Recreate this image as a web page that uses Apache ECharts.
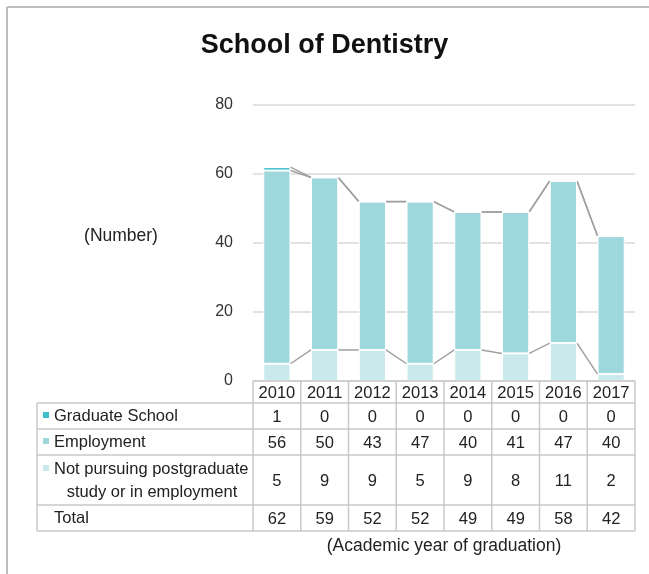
<!DOCTYPE html>
<html>
<head>
    <meta charset="utf-8">
    <script src="https://cdn.jsdelivr.net/npm/echarts@6/dist/echarts.min.js"></script>
    <style type="text/css">
        html, body { margin: 0; padding: 0; background: #fff; }
        #main { width: 649px; height: 574px; }
    </style>
</head>
<body>
    <div id="main"></div>
    <script>
        const years = ['2010', '2011', '2012', '2013', '2014', '2015', '2016', '2017'];
        const graduateSchool = [1, 0, 0, 0, 0, 0, 0, 0];
        const employment = [56, 50, 43, 47, 40, 41, 47, 40];
        const notPursuing = [5, 9, 9, 5, 9, 8, 11, 2];
        const totals = [62, 59, 52, 52, 49, 49, 58, 42];
        const yTicks = [0, 20, 40, 60, 80];

        const colGrad = '#3cbfc8';
        const colEmp = '#9ed8dc';
        const colNot = '#c9e9ec';
        const font = '"Liberation Sans", Arial, sans-serif';

        // cumulative levels for the series lines between bars
        const lvNot = notPursuing.slice();
        const lvEmp = notPursuing.map((v, i) => v + employment[i]);
        const lvGrad = lvEmp.map((v, i) => v + graduateSchool[i]);
        const levels = [lvNot, lvEmp, lvGrad];
        const barRatio = 0.57;

        const main = document.getElementById('main');
        const myChart = echarts.init(main);

        const barStyle = c => ({ color: c, borderColor: '#fff', borderWidth: 1 });

        myChart.setOption({
            animation: false,
            title: {
                text: 'School of Dentistry',
                left: 'center',
                top: 27,
                textStyle: { fontSize: 27, fontWeight: 'bold', color: '#111', fontFamily: font }
            },
            grid: { left: 253, right: 14, top: 105, bottom: 193 },
            xAxis: {
                type: 'category',
                data: years,
                axisLine: { show: false },
                axisTick: { show: false },
                axisLabel: { show: false }
            },
            yAxis: {
                type: 'value',
                min: yTicks[0], max: yTicks[yTicks.length - 1], interval: yTicks[1] - yTicks[0],
                axisLabel: { fontSize: 16, color: '#333', margin: 20, fontFamily: font },
                splitLine: { lineStyle: { color: '#d9d9d9', width: 1.5 } },
                axisLine: { show: false }
            },
            series: [
                { name: 'Not pursuing', type: 'bar', stack: 's', barWidth: (barRatio * 100) + '%', data: notPursuing, itemStyle: barStyle(colNot) },
                { name: 'Employment', type: 'bar', stack: 's', data: employment, itemStyle: barStyle(colEmp) },
                { name: 'Graduate School', type: 'bar', stack: 's', data: graduateSchool, itemStyle: barStyle(colGrad) },
                {
                    type: 'custom',
                    data: years.map((y, i) => [i, totals[i]]),
                    encode: { x: 0, y: 1 },
                    renderItem: (params, api) => {
                        const i = api.value(0);
                        if (i >= years.length - 1) return null;
                        const half = api.size([1, 0])[0] * barRatio / 2;
                        const children = levels.map(lv => {
                            const p1 = api.coord([i, lv[i]]);
                            const p2 = api.coord([i + 1, lv[i + 1]]);
                            return {
                                type: 'line',
                                shape: { x1: p1[0] + half, y1: p1[1], x2: p2[0] - half, y2: p2[1] },
                                style: { stroke: '#a0a0a0', lineWidth: 1.5 }
                            };
                        });
                        return { type: 'group', children };
                    }
                }
            ]
        });

        /* data table under the plot */
        const c0 = myChart.convertToPixel({ xAxisIndex: 0 }, 0);
        const c1 = myChart.convertToPixel({ xAxisIndex: 0 }, 1);
        const colW = c1 - c0;
        const tableL = 37;
        const colL = c0 - colW / 2;
        const colR = colL + colW * years.length;
        const rowY = [381, 403, 429, 455, 505, 531];
        const lineC = '#c8c8c8';
        const g = [];
        const line = (x1, y1, x2, y2) => g.push({
            type: 'line', shape: { x1, y1, x2, y2 }, style: { stroke: lineC, lineWidth: 1.5 }, z: 10
        });
        const txt = (x, y, text, align) => g.push({
            type: 'text', x, y, z: 11,
            style: { text, fill: '#222', fontSize: 16.5, fontFamily: font, align: align || 'center', verticalAlign: 'middle' }
        });

        // horizontal lines
        line(colL, rowY[0], colR, rowY[0]);
        for (let r = 1; r < rowY.length; r++) line(tableL, rowY[r], colR, rowY[r]);
        // vertical lines
        line(tableL, rowY[1], tableL, rowY[5]);
        for (let k = 0; k <= years.length; k++) line(colL + k * colW, rowY[0], colL + k * colW, rowY[5]);

        const rows = [
            { label: ['Graduate School'], color: colGrad, vals: graduateSchool },
            { label: ['Employment'], color: colEmp, vals: employment },
            { label: ['Not pursuing postgraduate', 'study or in employment'], color: colNot, vals: notPursuing },
            { label: ['Total'], color: null, vals: totals }
        ];
        years.forEach((y, i) => txt(colL + (i + 0.5) * colW, (rowY[0] + rowY[1]) / 2 + 1, y));
        rows.forEach((row, r) => {
            const top = rowY[r + 1], bot = rowY[r + 2];
            const mid = (top + bot) / 2;
            if (row.label.length === 1) {
                txt(54, mid, row.label[0], 'left');
                if (row.color) g.push({ type: 'rect', shape: { x: 43, y: mid - 4, width: 6, height: 6 }, style: { fill: row.color }, z: 11 });
            } else {
                txt(54, mid - 11, row.label[0], 'left');
                txt(152, mid + 12, row.label[1], 'center');
                g.push({ type: 'rect', shape: { x: 43, y: mid - 15, width: 6, height: 6 }, style: { fill: row.color }, z: 11 });
            }
            row.vals.forEach((v, i) => txt(colL + (i + 0.5) * colW, mid + 1, String(v)));
        });

        // axis captions
        g.push({ type: 'text', x: 121, y: 236, z: 11, style: { text: '(Number)', fill: '#222', fontSize: 17.5, fontFamily: font, align: 'center', verticalAlign: 'middle' } });
        g.push({ type: 'text', x: 444, y: 546, z: 11, style: { text: '(Academic year of graduation)', fill: '#222', fontSize: 17.5, fontFamily: font, align: 'center', verticalAlign: 'middle' } });

        // outer frame (only left and top edges visible)
        g.push({ type: 'line', shape: { x1: 7, y1: 7, x2: 649, y2: 7 }, style: { stroke: '#bcbcbc', lineWidth: 2 } });
        g.push({ type: 'line', shape: { x1: 7, y1: 7, x2: 7, y2: 574 }, style: { stroke: '#bcbcbc', lineWidth: 2 } });

        myChart.setOption({ graphic: { elements: g } });
    </script>
</body>
</html>
